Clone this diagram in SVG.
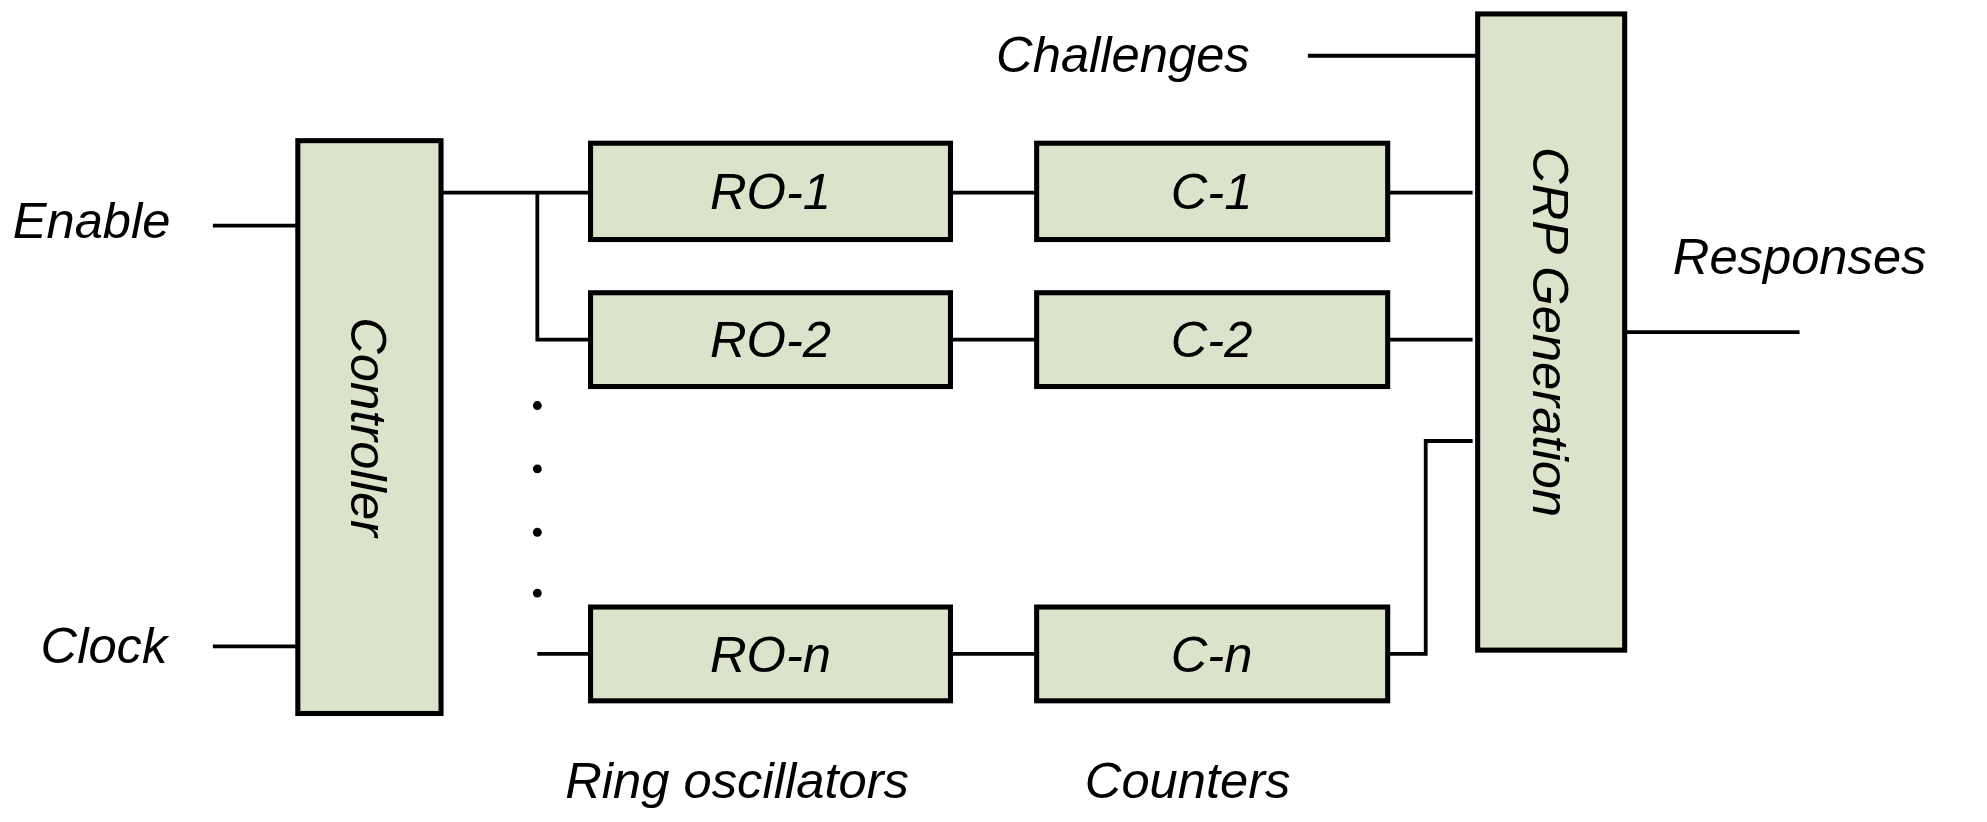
<svg xmlns="http://www.w3.org/2000/svg" width="1987" height="822" viewBox="0 0 1987 822">
<style>
.box{fill:#dbe3cb;stroke:#000;stroke-width:4}
.ln{stroke:#000;stroke-width:3;fill:none}
text{font-family:"Liberation Sans",Arial,sans-serif;font-style:italic;font-size:40px;fill:#000}
.c{text-anchor:middle}
</style>
<rect width="1987" height="822" fill="#fff"/>
<g transform="scale(1.2673)">
<g id="connectors">
<path class="ln" d="M168 178H235M168 510H235M348 152H466M424 152V268H466M424 516H466"/>
<path class="ln" d="M750 152H818M750 268H818M750 516H818"/>
<path class="ln" d="M1095 152H1162M1095 268H1162M1095 516H1125V348H1162"/>
<path class="ln" d="M1032 44H1166M1282 262H1420"/>
<g fill="#000"><circle cx="424" cy="320" r="3.5"/><circle cx="424" cy="370" r="3.5"/><circle cx="424" cy="420" r="3.5"/><circle cx="424" cy="468" r="3.5"/></g>
</g>
<g id="controller"><rect class="box" x="235" y="111" width="113" height="452"/><text class="c" transform="translate(291 337) rotate(90)" dy="14">Controller</text></g>
<g id="ro1"><rect class="box" x="466" y="113" width="284" height="76"/><text class="c" x="608" y="165">RO-1</text></g>
<g id="ro2"><rect class="box" x="466" y="231" width="284" height="74"/><text class="c" x="608" y="282">RO-2</text></g>
<g id="ron"><rect class="box" x="466" y="479" width="284" height="74"/><text class="c" x="608" y="530">RO-n</text></g>
<g id="c1"><rect class="box" x="818" y="113" width="277" height="76"/><text class="c" x="956" y="165">C-1</text></g>
<g id="c2"><rect class="box" x="818" y="231" width="277" height="74"/><text class="c" x="956" y="282">C-2</text></g>
<g id="cn"><rect class="box" x="818" y="479" width="277" height="74"/><text class="c" x="956" y="530">C-n</text></g>
<g id="crp"><rect class="box" x="1166" y="11" width="116" height="502"/><text class="c" transform="translate(1224 262) rotate(90)" dy="14">CRP Generation</text></g>
<g id="labels">
<text x="10" y="188">Enable</text>
<text x="32" y="523">Clock</text>
<text x="786" y="57">Challenges</text>
<text x="1320" y="216">Responses</text>
<text x="446" y="630">Ring oscillators</text>
<text x="856" y="630">Counters</text>
</g>
</g>
</svg>
